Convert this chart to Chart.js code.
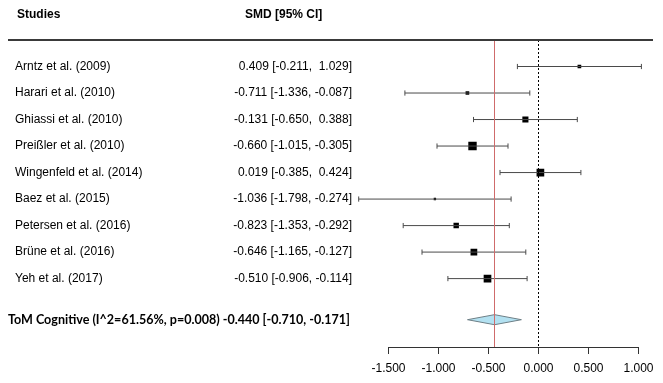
<!DOCTYPE html>
<html><head><meta charset="utf-8">
<script src="https://cdn.jsdelivr.net/npm/chart.js@4/dist/chart.umd.min.js"></script>
<style>html,body{margin:0;padding:0;background:#fff;}canvas{display:block}</style>
</head><body>
<canvas id="c" width="663" height="383"></canvas>
<script>
// ---- data ----
const studies = ["Arntz et al. (2009)", "Harari et al. (2010)", "Ghiassi et al. (2010)", "Preißler et al. (2010)",
  "Wingenfeld et al. (2014)", "Baez et al. (2015)", "Petersen et al. (2016)", "Brüne et al. (2016)", "Yeh et al. (2017)"];
const smd = [0.409, -0.711, -0.131, -0.660, 0.019, -1.036, -0.823, -0.646, -0.510];
const ciLower = [-0.211, -1.336, -0.650, -1.015, -0.385, -1.798, -1.353, -1.165, -0.906];
const ciUpper = [1.029, -0.087, 0.388, -0.305, 0.424, -0.274, -0.292, -0.127, -0.114];
const weights = [6.8, 6.8, 11.8, 16.6, 15.1, 4.1, 10.4, 13.1, 15.1];
const summaryLabel = "ToM Cognitive (I^2=61.56%, p=0.008)";
const summaryEst = [-0.440];
const summaryLower = [-0.710];
const summaryUpper = [-0.171];
const tickValues = [-1.5, -1.0, -0.5, 0.0, 0.5, 1.0];
const tickLabels = ["-1.500", "-1.000", "-0.500", "0.000", "0.500", "1.000"];
const headers = ["Studies", "SMD [95% CI]"];

// ---- layout / styles ----
const rowOf = i => i + 1;
const summaryRow = 10.55;
const Y_MAX = 11.58;
const fmt = v => v.toFixed(3);
const fmtIn = v => (v >= 0 ? " " : "") + v.toFixed(3);
const ciText = (e, l, u) => `${fmt(e)} [${fmtIn(l)}, ${fmtIn(u)}]`;

const datasets = [];
// reference lines
datasets.push({ data: [{x: summaryEst[0], y: 0}, {x: summaryEst[0], y: Y_MAX}], borderColor: '#cf6b6b', borderWidth: 1, pointRadius: 0, showLine: true });
datasets.push({ data: [{x: 0, y: 0}, {x: 0, y: Y_MAX}], borderColor: '#000', borderWidth: 1, borderDash: [2, 2], pointRadius: 0, showLine: true });
// CI whiskers
studies.forEach((s, i) => {
  datasets.push({
    data: [{x: ciLower[i], y: rowOf(i)}, {x: ciUpper[i], y: rowOf(i)}],
    showLine: true, borderColor: '#4a4a4a', borderWidth: 1,
    pointStyle: 'line', rotation: 90, pointRadius: 2.6, pointBorderColor: '#4a4a4a', pointBorderWidth: 1
  });
});
// squares
datasets.push({
  data: smd.map((v, i) => ({x: v, y: rowOf(i)})),
  pointStyle: 'rect', backgroundColor: '#000', borderColor: '#000', borderWidth: 0,
  pointRadius: weights.map(w => (w * 0.48) / Math.SQRT2 + 0.3), showLine: false
});
// summary diamond
const dh = 0.19;
datasets.push({
  data: [{x: summaryLower[0], y: summaryRow}, {x: summaryEst[0], y: summaryRow - dh}, {x: summaryUpper[0], y: summaryRow}, {x: summaryEst[0], y: summaryRow + dh}, {x: summaryLower[0], y: summaryRow}],
  showLine: true, fill: 'shape', backgroundColor: '#b3e1f1', borderColor: '#6d7f86', borderWidth: 1, pointRadius: 0, tension: 0
});

const textPlugin = {
  id: 'forestText',
  afterDraw(chart) {
    const ctx = chart.ctx, xs = chart.scales.x, ys = chart.scales.y;
    ctx.save();
    ctx.fillStyle = '#000';
    ctx.textBaseline = 'middle';
    // header
    ctx.font = 'bold 12px "Liberation Sans", Arial, sans-serif';
    ctx.textAlign = 'left';
    ctx.fillText(headers[0], 17, 15);
    ctx.fillText(headers[1], 245, 15);
    ctx.strokeStyle = '#3a3a3a'; ctx.lineWidth = 2;
    ctx.beginPath(); ctx.moveTo(8, 40); ctx.lineTo(653, 40); ctx.stroke();
    // study rows
    ctx.font = '12px "Liberation Sans", Arial, sans-serif';
    studies.forEach((s, i) => {
      const y = ys.getPixelForValue(rowOf(i));
      ctx.textAlign = 'left';
      ctx.fillText(s, 15, y);
      ctx.textAlign = 'right';
      ctx.fillText(ciText(smd[i], ciLower[i], ciUpper[i]), 352, y);
    });
    // summary
    const sy = ys.getPixelForValue(summaryRow);
    ctx.font = 'bold 12.5px Lato, "Open Sans", sans-serif';
    const txt = summaryLabel + ' ' + ciText(summaryEst[0], summaryLower[0], summaryUpper[0]);
    const w = ctx.measureText(txt).width;
    const target = 342;
    const fs = 12.5 * target / w;
    ctx.font = `bold ${fs.toFixed(2)}px Lato, "Open Sans", sans-serif`;
    ctx.textAlign = 'left';
    ctx.fillText(txt, 8, sy);
    // x axis
    const ay = 347;
    ctx.strokeStyle = '#333'; ctx.lineWidth = 1;
    ctx.beginPath();
    ctx.moveTo(xs.getPixelForValue(tickValues[0]), ay + 0.5);
    ctx.lineTo(xs.getPixelForValue(tickValues[tickValues.length - 1]), ay + 0.5);
    tickValues.forEach(v => {
      const px = Math.floor(xs.getPixelForValue(v)) + 0.5;
      ctx.moveTo(px, ay); ctx.lineTo(px, ay + 7);
    });
    ctx.stroke();
    ctx.font = '12px "Liberation Sans", Arial, sans-serif';
    ctx.textAlign = 'center';
    tickValues.forEach((v, k) => ctx.fillText(tickLabels[k], xs.getPixelForValue(v), 369));
    ctx.restore();
  }
};

new Chart(document.getElementById('c'), {
  type: 'scatter',
  data: { datasets },
  options: {
    responsive: false, animation: false, events: [],
    layout: { padding: { left: 355.5, right: 7.5, top: 40, bottom: 36 } },
    plugins: { legend: { display: false }, tooltip: { enabled: false } },
    scales: {
      x: { type: 'linear', min: -1.83, max: 1.17, display: false },
      y: { type: 'linear', min: 0, max: Y_MAX, reverse: true, display: false }
    }
  },
  plugins: [textPlugin]
});
</script>
</body></html>
